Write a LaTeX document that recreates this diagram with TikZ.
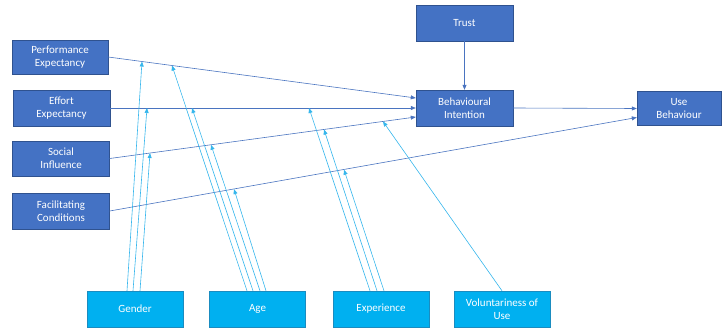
\documentclass[tikz,border=0pt]{standalone}
\usepackage{fontspec}
\setmainfont{Carlito}
\usepackage{tikz}
\usetikzlibrary{positioning,arrows.meta}
\definecolor{boxblue}{HTML}{4472C4}
\definecolor{boxedge}{HTML}{2F528F}
\definecolor{modblue}{HTML}{00B0F0}
\definecolor{modedge}{HTML}{1A8CC0}
\definecolor{linkblue}{HTML}{4A74C0}
\definecolor{modline}{HTML}{35B6EC}

\begin{document}
\begin{tikzpicture}[x=1pt,y=-1pt,
    construct/.style={draw=boxedge,fill=boxblue,text=white,font=\fontsize{11}{13.3}\selectfont,
      align=center,inner sep=0pt,minimum width=97pt,minimum height=36pt},
    moderator/.style={draw=modedge,fill=modblue,text=white,font=\fontsize{11}{13.3}\selectfont,
      align=center,inner sep=0pt,minimum width=96pt,minimum height=36pt},
    path/.style={draw=linkblue,line width=0.6pt,-{Triangle[length=5pt,width=4pt]}},
    moderates/.style={draw=modline,line width=0.6pt,-{Triangle[length=5pt,width=4pt]}}]
  \useasboundingbox (0,0) rectangle (723,329);

  % constructs
  \node[construct,minimum height=34pt,minimum width=96pt](pe) at (60,57){Performance\\Expectancy};
  \node[construct](ee) at (61.5,108){Effort\\Expectancy};
  \node[construct,minimum height=35pt](si) at (61,158.5){Social\\Influence};
  \node[construct](fc) at (61,211){Facilitating\\Conditions};
  \node[construct](trust) at (464.5,23){Trust};
  \node[construct](bi) at (464.5,108){Behavioural\\Intention};
  \node[construct,minimum width=84pt,minimum height=34pt](ub) at (679,108.5){Use\\Behaviour};

  % moderators
  \node[moderator](gender) at (135,309){Gender};
  \node[moderator](age) at (257.5,309){Age};
  \node[moderator](exp) at (381,309){Experience};
  \node[moderator](vol) at (502,309){Voluntariness of\\Use};

  % main paths
  \draw[path] (pe.east) -- ([yshift=10pt]bi.west);
  \draw[path] (ee.east) -- (bi.west);
  \draw[path] (si.east) -- ([yshift=-9pt]bi.west);
  \draw[path] (trust) -- (bi);
  \draw[path] (bi.east) -- (ub.west);
  \draw[path] (fc.east) -- ([yshift=-9pt]ub.west);

  % points where the moderators meet the paths
  \coordinate (gpe) at (142,61.5);
  \coordinate (gee) at (147,108);
  \coordinate (gsi) at (150,153.1);
  \coordinate (ape) at (172,65.5);
  \coordinate (aee) at (192,108);
  \coordinate (asi) at (211,144.8);
  \coordinate (afc) at (234,189.1);
  \coordinate (xee) at (309,108);
  \coordinate (xsi) at (324,129.5);
  \coordinate (xfc) at (344,169.7);
  \coordinate (vsi) at (383,121.5);

  % moderating effects
  \draw[moderates] ([xshift=-8pt]gender.north) -- (gpe);
  \draw[moderates] ([xshift=-2pt]gender.north) -- (gee);
  \draw[moderates] ([xshift=5pt]gender.north) -- (gsi);
  \draw[moderates] ([xshift=-10.5pt]age.north) -- (ape);
  \draw[moderates] ([xshift=-4.5pt]age.north) -- (aee);
  \draw[moderates] ([xshift=2.5pt]age.north) -- (asi);
  \draw[moderates] ([xshift=8.5pt]age.north) -- (afc);
  \draw[moderates] ([xshift=-11pt]exp.north) -- (xee);
  \draw[moderates] ([xshift=-4pt]exp.north) -- (xsi);
  \draw[moderates] ([xshift=3pt]exp.north) -- (xfc);
  \draw[moderates] (vol.north) -- (vsi);
\end{tikzpicture}
\end{document}
